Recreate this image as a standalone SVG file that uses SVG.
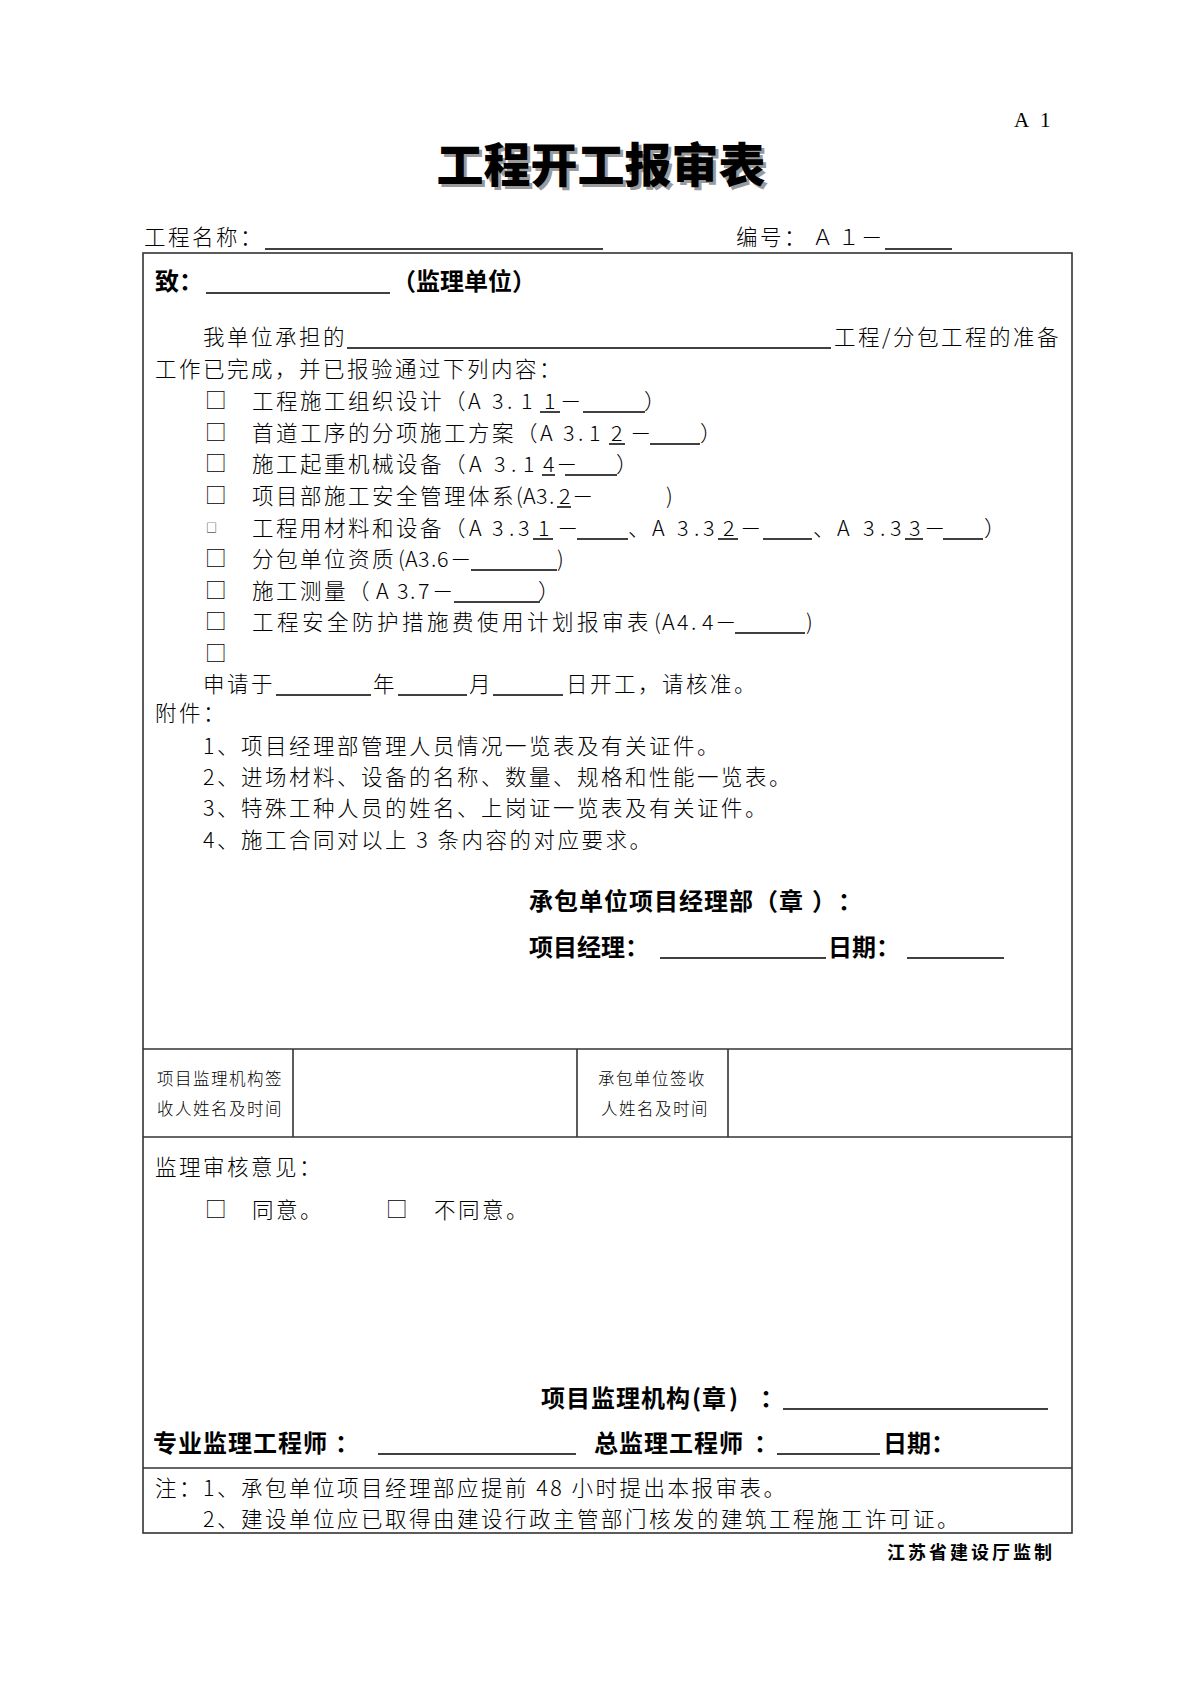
<svg xmlns="http://www.w3.org/2000/svg" width="1200" height="1697" viewBox="0 0 1200 1697">
<style>
.t{font-family:"Noto Sans CJK SC","Noto Sans",sans-serif;font-size:21.5px;letter-spacing:2.5px;font-weight:300;fill:#000}
.b{font-family:"Noto Sans CJK SC","Noto Sans",sans-serif;font-size:24px;font-weight:700;fill:#000}
.s{font-family:"Noto Sans CJK SC","Noto Sans",sans-serif;font-size:16.5px;letter-spacing:1.5px;font-weight:300;fill:#000}
.cb{font-family:"Noto Sans CJK SC",sans-serif;font-size:21.5px;font-weight:300;fill:#000}
.n{letter-spacing:0}
.ln{stroke:#000;stroke-width:1.5}
.grid{stroke:#333;stroke-width:1.6;fill:none}
</style>
<rect width="1200" height="1697" fill="#fff"/>

<g id="header">
<text x="1014" y="127" style="font-family:'Liberation Serif',serif;font-size:21px" fill="#000">A<tspan x="1040">1</tspan></text>
<text x="604" y="185" text-anchor="middle" style="font-family:'Noto Sans CJK SC',sans-serif;font-size:47px;font-weight:900" fill="#9a9a9a">工程开工报审表</text>
<text x="601" y="182" text-anchor="middle" style="font-family:'Noto Sans CJK SC',sans-serif;font-size:47px;font-weight:900" fill="#000">工程开工报审表</text>
<text class="t" x="144" y="245">工程名称：</text>
<text class="t" x="736" y="245">编号：<tspan x="812">Ａ</tspan><tspan x="838">１</tspan><tspan x="861">－</tspan></text>
</g>

<g id="table">
<rect class="grid" x="143" y="253" width="929" height="1280"/>
<line class="grid" x1="143" y1="1049" x2="1072" y2="1049"/>
<line class="grid" x1="143" y1="1137" x2="1072" y2="1137"/>
<line class="grid" x1="143" y1="1468" x2="1072" y2="1468"/>
<line class="grid" x1="293" y1="1049" x2="293" y2="1137"/>
<line class="grid" x1="577" y1="1049" x2="577" y2="1137"/>
<line class="grid" x1="728" y1="1049" x2="728" y2="1137"/>
</g>

<g id="blanks">
<line class="ln" x1="265" y1="249" x2="603" y2="249"/>
<line class="ln" x1="885" y1="249" x2="952" y2="249"/>
<line class="ln" x1="206" y1="293" x2="390" y2="293"/>
<line class="ln" x1="347" y1="348" x2="831" y2="348"/>
<line class="ln" x1="540" y1="412" x2="560" y2="412"/>
<line class="ln" x1="583" y1="412" x2="645" y2="412"/>
<line class="ln" x1="609" y1="444" x2="625" y2="444"/>
<line class="ln" x1="650" y1="444" x2="700" y2="444"/>
<line class="ln" x1="542" y1="475" x2="555" y2="475"/>
<line class="ln" x1="565" y1="475" x2="617" y2="475"/>
<line class="ln" x1="557" y1="507" x2="571" y2="507"/>
<line class="ln" x1="533" y1="539" x2="553" y2="539"/>
<line class="ln" x1="577" y1="539" x2="628" y2="539"/>
<line class="ln" x1="718" y1="539" x2="738" y2="539"/>
<line class="ln" x1="763" y1="539" x2="812" y2="539"/>
<line class="ln" x1="905" y1="539" x2="923" y2="539"/>
<line class="ln" x1="943" y1="539" x2="983" y2="539"/>
<line class="ln" x1="471" y1="570" x2="557" y2="570"/>
<line class="ln" x1="454" y1="602" x2="540" y2="602"/>
<line class="ln" x1="735" y1="633" x2="805" y2="633"/>
<line class="ln" x1="276" y1="695" x2="371" y2="695"/>
<line class="ln" x1="398" y1="695" x2="467" y2="695"/>
<line class="ln" x1="493" y1="695" x2="563" y2="695"/>
<line class="ln" x1="660" y1="958" x2="826" y2="958"/>
<line class="ln" x1="907" y1="958" x2="1004" y2="958"/>
<line class="ln" x1="783" y1="1409" x2="1048" y2="1409"/>
<line class="ln" x1="378" y1="1454" x2="576" y2="1454"/>
<line class="ln" x1="777" y1="1454" x2="880" y2="1454"/>
</g>

<g id="addressee">
<text class="b" x="155" y="290">致：</text>
<text class="b" x="392" y="290">（监理单位）</text>
</g>

<g id="statement">
<text class="t" x="203" y="345">我单位承担的</text>
<text class="t" x="834" y="345">工程/分包工程的准备</text>
<text class="t" x="155" y="377">工作已完成，并已报验通过下列内容：</text>
</g>

<g id="checklist">
<text class="cb" x="205" y="408">□</text>
<text class="t" x="252" y="409">工程施工组织设计（<tspan class="n" x="468">A</tspan><tspan class="n" x="492">3</tspan><tspan class="n" x="507">.</tspan><tspan class="n" x="521">1</tspan><tspan class="n" x="544">1</tspan><tspan class="n" x="560">－</tspan><tspan class="n" x="644">）</tspan></text>
<text class="cb" x="205" y="440">□</text>
<text class="t" x="252" y="441">首道工序的分项施工方案（<tspan class="n" x="540">A</tspan><tspan class="n" x="563">3</tspan><tspan class="n" x="578">.</tspan><tspan class="n" x="589">1</tspan><tspan class="n" x="611">2</tspan><tspan class="n" x="630">－</tspan><tspan class="n" x="700">）</tspan></text>
<text class="cb" x="205" y="471">□</text>
<text class="t" x="252" y="472">施工起重机械设备（<tspan class="n" x="469">A</tspan><tspan class="n" x="494">3</tspan><tspan class="n" x="511">.</tspan><tspan class="n" x="523">1</tspan><tspan class="n" x="543">4</tspan><tspan class="n" x="556">－</tspan><tspan class="n" x="616">）</tspan></text>
<text class="cb" x="205" y="503">□</text>
<text class="t" x="252" y="504">项目部施工安全管理体系<tspan class="n" x="516">(</tspan><tspan class="n" x="523">A</tspan><tspan class="n" x="536">3</tspan><tspan class="n" x="549">.</tspan><tspan class="n" x="559">2</tspan><tspan class="n" x="572">－</tspan><tspan class="n" x="666">)</tspan></text>
<text class="cb" x="206" y="532" style="font-size:11px">□</text>
<text class="t" x="252" y="536">工程用材料和设备（<tspan class="n" x="469">A</tspan><tspan class="n" x="492">3</tspan><tspan class="n" x="509">.</tspan><tspan class="n" x="518">3</tspan><tspan class="n" x="538">1</tspan><tspan class="n" x="557">－</tspan><tspan class="n" x="628">、</tspan><tspan class="n" x="652">A</tspan><tspan class="n" x="677">3</tspan><tspan class="n" x="694">.</tspan><tspan class="n" x="703">3</tspan><tspan class="n" x="723">2</tspan><tspan class="n" x="740">－</tspan><tspan class="n" x="813">、</tspan><tspan class="n" x="837">A</tspan><tspan class="n" x="863">3</tspan><tspan class="n" x="880">.</tspan><tspan class="n" x="890">3</tspan><tspan class="n" x="909">3</tspan><tspan class="n" x="924">－</tspan><tspan class="n" x="984">）</tspan></text>
<text class="cb" x="205" y="566">□</text>
<text class="t" x="252" y="567">分包单位资质<tspan class="n" x="398">(</tspan><tspan class="n" x="405">A</tspan><tspan class="n" x="418">3</tspan><tspan class="n" x="431">.</tspan><tspan class="n" x="437">6</tspan><tspan class="n" x="450">－</tspan><tspan class="n" x="557">)</tspan></text>
<text class="cb" x="205" y="598">□</text>
<text class="t" x="252" y="599">施工测量（<tspan class="n" x="376">A</tspan><tspan class="n" x="397">3</tspan><tspan class="n" x="410">.</tspan><tspan class="n" x="418">7</tspan><tspan class="n" x="432">－</tspan><tspan class="n" x="538">）</tspan></text>
<text class="cb" x="205" y="629">□</text>
<text class="t" x="252" y="630" style="letter-spacing:3.5px">工程安全防护措施费使用计划报审表<tspan class="n" x="654">(</tspan><tspan class="n" x="662">A</tspan><tspan class="n" x="677">4</tspan><tspan class="n" x="691">.</tspan><tspan class="n" x="702">4</tspan><tspan class="n" x="715">－</tspan><tspan class="n" x="806">)</tspan></text>
<text class="cb" x="205" y="661">□</text>
</g>

<g id="start-date">
<text class="t" x="203" y="692">申请于<tspan x="373">年</tspan><tspan x="469">月</tspan><tspan x="566">日开工，请核准。</tspan></text>
</g>

<g id="attachments">
<text class="t" x="155" y="721">附件：</text>
<text class="t" x="203" y="754">1、项目经理部管理人员情况一览表及有关证件。</text>
<text class="t" x="203" y="785">2、进场材料、设备的名称、数量、规格和性能一览表。</text>
<text class="t" x="203" y="816">3、特殊工种人员的姓名、上岗证一览表及有关证件。</text>
<text class="t" x="203" y="848">4、施工合同对以上 3 条内容的对应要求。</text>
</g>

<g id="contractor-sign">
<text class="b" x="529" y="910" letter-spacing="1">承包单位项目经理部（章<tspan x="812">）</tspan><tspan x="838">：</tspan></text>
<text class="b" x="529" y="956">项目经理：<tspan x="828">日期：</tspan></text>
</g>

<g id="receipt-row">
<text class="s" x="157" y="1085">项目监理机构签</text>
<text class="s" x="157" y="1115">收人姓名及时间</text>
<text class="s" x="598" y="1085">承包单位签收</text>
<text class="s" x="601" y="1115">人姓名及时间</text>
</g>

<g id="review">
<text class="t" x="155" y="1175">监理审核意见：</text>
<text class="cb" x="205" y="1217">□</text>
<text class="t" x="252" y="1218">同意。</text>
<text class="cb" x="386" y="1217">□</text>
<text class="t" x="434" y="1218">不同意。</text>
<text class="b" x="541" y="1407" letter-spacing="1">项目监理机构<tspan x="692">(</tspan><tspan x="702">章</tspan><tspan x="729">)</tspan><tspan x="760">：</tspan></text>
<text class="b" x="153" y="1452" letter-spacing="1">专业监理工程师<tspan x="335">：</tspan></text>
<text class="b" x="594" y="1452" letter-spacing="1">总监理工程师<tspan x="754">：</tspan></text>
<text class="b" x="883" y="1452">日期：</text>
</g>

<g id="notes">
<text class="t" x="155" y="1496">注：1、承包单位项目经理部应提前 48 小时提出本报审表。</text>
<text class="t" x="203" y="1527">2、建设单位应已取得由建设行政主管部门核发的建筑工程施工许可证。</text>
</g>

<g id="footer">
<text class="b" x="887" y="1559" style="font-size:18px;letter-spacing:3px">江苏省建设厅监制</text>
</g>
</svg>
